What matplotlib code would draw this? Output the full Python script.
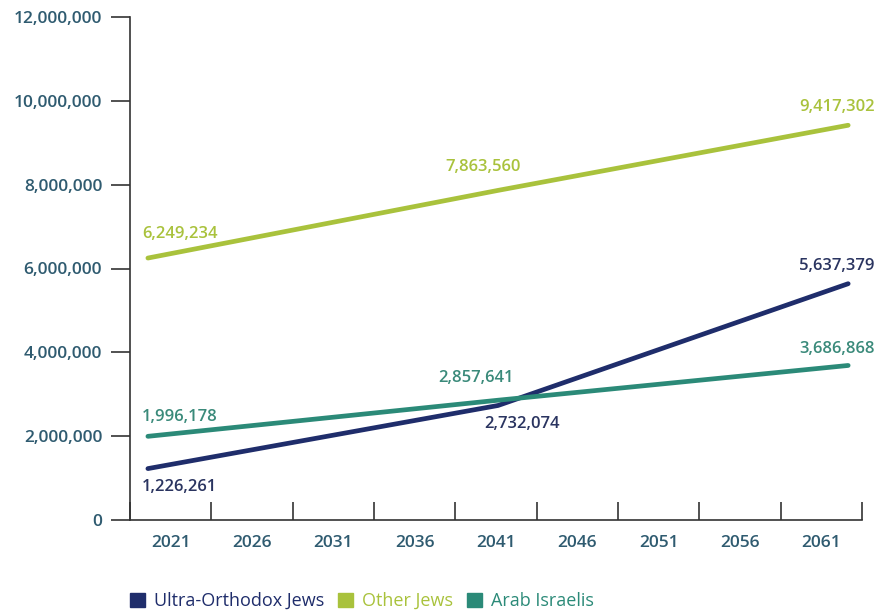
import matplotlib.pyplot as plt
import matplotlib.patches as mpatches
import numpy as np
from matplotlib.ticker import FuncFormatter

plt.rcParams['font.family'] = ['Open Sans', 'DejaVu Sans']

# projection years and population counts
years = [2021, 2041, 2061]
ultra_orthodox = [1226261, 2732074, 5637379]
other_jews = [6249234, 7863560, 9417302]
arab_israelis = [1996178, 2857641, 3686868]
tick_years = [2021, 2026, 2031, 2036, 2041, 2046, 2051, 2056, 2061]

navy = '#1f2d6b'
lime = '#a9c23c'
teal = '#2b8a78'
tick_col = '#2f5b70'

fig = plt.figure(figsize=(8.78, 6.11), dpi=100)
ax = fig.add_axes([130 / 878, 1 - 520 / 611, 732 / 878, 503 / 611])


def xpos(y):
    # years sit inside the category bins 0..9
    return 0.22 + (np.asarray(y) - 2021) / 40 * 8.61


# label offsets in points: (dx, dy, horizontal alignment)
series = [
    ('Ultra-Orthodox Jews', ultra_orthodox, navy, '#2a3460',
     [(23, -13, 'center'), (17, -13, 'center'), (19, 13, 'right')]),
    ('Other Jews', other_jews, lime, lime,
     [(23, 17, 'center'), (-11, 17, 'center'), (19, 13, 'right')]),
    ('Arab Israelis', arab_israelis, teal, '#3a8a7a',
     [(23, 14, 'center'), (-16, 16, 'center'), (19, 12, 'right')]),
]

handles = []
for name, vals, col, tcol, offs in series:
    ax.plot(xpos(years), vals, color=col, lw=3.4, solid_capstyle='round')
    for yr, v, (dx, dy, ha) in zip(years, vals, offs):
        ax.annotate(f'{v:,}', (xpos(yr), v), xytext=(dx, dy),
                    textcoords='offset points', ha=ha, va='center',
                    fontsize=12, fontweight='semibold', color=tcol)
    handles.append(mpatches.Patch(color=col, label=name))

ax.set_xlim(0, 9)
ax.set_ylim(0, 12000000)

for s in ['top', 'right']:
    ax.spines[s].set_visible(False)
for s in ['left', 'bottom']:
    ax.spines[s].set_color('#333333')
    ax.spines[s].set_linewidth(1.2)

ax.set_yticks(np.arange(0, 12000001, 2000000))
ax.yaxis.set_major_formatter(FuncFormatter(lambda v, p: f'{int(v):,}'))
ax.tick_params(axis='y', direction='out', length=14, width=1.2, color='#333333',
               pad=6, labelsize=12.5, labelcolor=tick_col)
for t in ax.get_yticklabels():
    t.set_fontweight('semibold')

ax.set_xticks(np.arange(0, 10))
ax.set_xticklabels([])
ax.tick_params(axis='x', which='major', direction='in', length=13, width=1.2,
               color='#333333')
ax.set_xticks(np.arange(9) + 0.5, minor=True)
ax.set_xticklabels([str(y) for y in tick_years], minor=True)
ax.tick_params(axis='x', which='minor', length=0, pad=11, labelsize=12.5,
               labelcolor=tick_col)
for t in ax.get_xticklabels(minor=True):
    t.set_fontweight('semibold')

leg = fig.legend(handles=handles, loc='center left',
                 bbox_to_anchor=(114 / 878, 1 - 601 / 611), ncol=3,
                 frameon=False, fontsize=13, handlelength=0.8, handleheight=0.8,
                 handletextpad=0.5, columnspacing=0.8)
for txt, (_, _, col, _, _) in zip(leg.get_texts(), series):
    txt.set_color(col)

fig.savefig('out.png', dpi=100)
